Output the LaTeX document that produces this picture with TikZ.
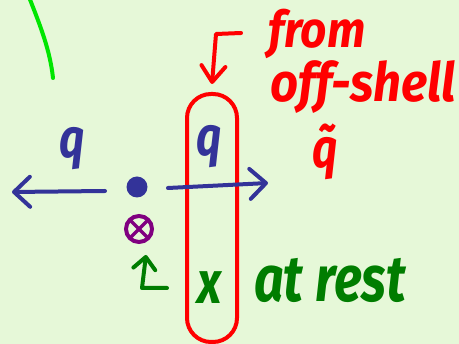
\documentclass[tikz,border=0pt]{standalone}
\usepackage{fontspec}
\usepackage{graphicx}
\setmainfont{Fira Sans}
\usetikzlibrary{arrows.meta}
\definecolor{bg}{RGB}{230,248,216}
\definecolor{qblue}{RGB}{51,51,153}
\definecolor{hred}{RGB}{255,0,0}
\definecolor{hgreen}{RGB}{0,125,0}
\definecolor{lgreen}{RGB}{0,230,0}
\definecolor{hpurple}{RGB}{128,0,128}
\newcommand\handfont[1]{\fontsize{#1}{#1}\selectfont\bfseries\itshape}
\newcommand\tall[2][1.25]{\scalebox{1}[#1]{#2}}
\tikzset{
  hand/.style={inner sep=0pt},
  pen/.style={line width=4pt, line cap=round, line join=round},
  barb/.style={-{Straight Barb[length=16pt,width=30pt,line cap=round,line join=round]}},
}
\begin{document}
\begin{tikzpicture}[x=1pt,y=-1pt]
\fill[bg] (0,0) rectangle (459,344);
\useasboundingbox (0,0) rectangle (459,344);
% green curve
\coordinate (g0) at (29,-3);
\coordinate (g1) at (53,78);
\draw[lgreen, pen, line width=4pt] (g0) .. controls (40,25) and (50,50) .. (g1);
% red box
\node[draw=hred, line width=4pt, rounded corners=24pt, minimum width=50pt, minimum height=248pt] (box) at (212,218) {};
% blue dot and otimes
\node[circle, fill=qblue, minimum size=21pt, inner sep=0pt] (dot) at (137,187) {};
\node[circle, draw=hpurple, line width=4pt, minimum size=26pt, inner sep=0pt] (ot) at (139,229) {};
\draw[hpurple, line width=3.5pt, shorten <=2.5pt, shorten >=2.5pt] (ot.north west) -- (ot.south east);
\draw[hpurple, line width=3.5pt, shorten <=2.5pt, shorten >=2.5pt] (ot.north east) -- (ot.south west);
% blue arrows
\coordinate (la0) at (105,191);
\coordinate (la1) at (12,192);
\coordinate (ra0) at (168,188);
\coordinate (ra1) at (268,183);
\draw[qblue, pen, barb] (la0) -- (la1);
\draw[qblue, pen, barb] (ra0) -- (ra1);
% red arrow
\coordinate (r0) at (241,33);
\coordinate (r1) at (216,34);
\coordinate (r2) at (212,84);
\draw[hred, pen, -{Straight Barb[length=16pt,width=24pt,line cap=round,line join=round]}] (r0) -- (r1) -- (r2);
% green arrow
\coordinate (ga0) at (167,288);
\coordinate (ga1) at (142,288);
\coordinate (ga2) at (146,255);
\draw[hgreen, pen, -{Straight Barb[length=12pt,width=22pt,line cap=round,line join=round]}] (ga0) -- (ga1) -- (ga2);
% texts
\node[hand, text=qblue, anchor=base] (q1) at (72,158) {\handfont{44}\tall{q}};
\node[hand, text=qblue, anchor=base] (q2) at (209,156) {\handfont{44}\tall{q}};
\node[hand, text=hred, anchor=base] (qt) at (325,168) {\handfont{44}\tall{\~{q}}};
\node[hand, text=hred, anchor=base west] (from) at (268,48) {\handfont{46}\tall[1.1]{from}};
\node[hand, text=hred, anchor=base west] (off) at (270,102) {\handfont{49}\tall[1.1]{off-shell}};
\node[hand, text=hgreen, anchor=base] (x) at (210,304) {\handfont{48}\tall{x}};
\node[hand, text=hgreen, anchor=base west] (rest) at (254,302) {\handfont{52}\tall{at rest}};
\end{tikzpicture}
\end{document}
